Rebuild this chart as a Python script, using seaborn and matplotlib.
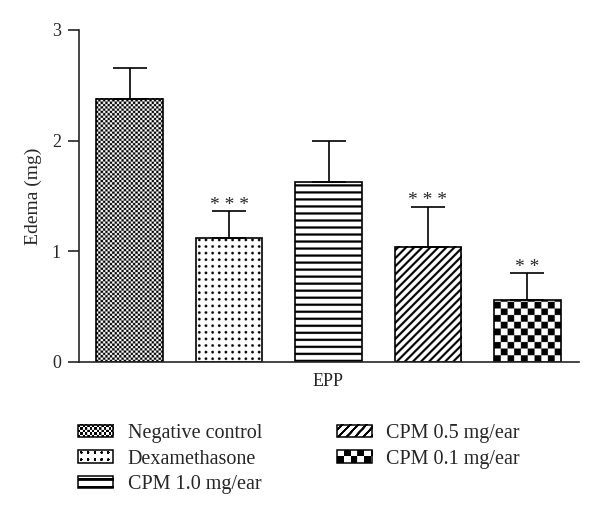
"""
Edema (mg) no modelo EPP - barras com padrões preto e branco.
"""

import numpy as np
import pandas as pd
import matplotlib
matplotlib.use("Agg")
import matplotlib.pyplot as plt
import seaborn as sns
from matplotlib.patches import Patch, Rectangle
from matplotlib.legend_handler import HandlerBase
from matplotlib.image import BboxImage
from matplotlib.colors import Normalize
from matplotlib.transforms import Bbox, TransformedBbox

groups = ["Negative control", "Dexamethasone", "CPM 1.0 mg/ear",
          "CPM 0.5 mg/ear", "CPM 0.1 mg/ear"]
means = [2.38, 1.12, 1.63, 1.04, 0.56]
errors = [0.28, 0.24, 0.37, 0.36, 0.24]
stars = ["", "* * *", "", "* * *", "* *"]
x_labels = ["EPP"]
y_ticks = [0, 1, 2, 3]

# padrão de cada grupo (textura desenhada em pixels)
patterns = {
    "Negative control": "fine_check",
    "Dexamethasone": "dots",
    "CPM 1.0 mg/ear": "hlines",
    "CPM 0.5 mg/ear": "diag",
    "CPM 0.1 mg/ear": "big_check",
}


def texture(kind, w_px, h_px, ss=4):
    """Gera a textura (1 = preto) com supersampling."""
    W = max(1, int(round(w_px * ss)))
    H = max(1, int(round(h_px * ss)))
    xx, yy = np.meshgrid((np.arange(W) + 0.5) / ss, (np.arange(H) + 0.5) / ss)
    if kind == "fine_check":
        a = (xx // 2.3 + yy // 2.3) % 2 == 0
    elif kind == "big_check":
        a = (xx // 6.7 + yy // 6.7) % 2 == 0
    elif kind == "dots":
        dx = (xx % 6.6) - 3.3
        dy = (yy % 6.6) - 3.3
        a = dx ** 2 + dy ** 2 < 1.35 ** 2
    elif kind == "hlines":
        a = (yy % 7.0) < 2.3
    elif kind == "diag":
        a = ((xx - yy) % 8.0) < 2.8
    else:
        a = np.zeros_like(xx, dtype=bool)
    return a.astype(float)


class TextureHandler(HandlerBase):
    def __init__(self, kind):
        super().__init__()
        self.kind = kind

    def create_artists(self, legend, orig_handle, xdescent, ydescent,
                       width, height, fontsize, trans):
        x0, y0 = -xdescent, -ydescent
        bb = TransformedBbox(Bbox.from_bounds(x0, y0, width, height), trans)
        img = BboxImage(bb, cmap="gray_r", norm=Normalize(0, 1),
                        interpolation="antialiased", origin="lower")
        img.set_data(texture(self.kind, width * 100 / 72, height * 100 / 72))
        rect = Rectangle((x0, y0), width, height, facecolor="none",
                         edgecolor="black", linewidth=1.1, transform=trans)
        return [img, rect]


sns.set_style("ticks")
plt.rcParams["font.family"] = ["Liberation Serif", "DejaVu Serif"]

fig = plt.figure(figsize=(6, 5.16), dpi=100)
ax = fig.add_axes([79 / 600, 1 - 362 / 516, 500 / 600, 332 / 516])

df = pd.DataFrame({"group": groups, "edema": means})
sns.barplot(data=df, x="group", y="edema", hue="group", order=groups,
            hue_order=groups, palette=["white"] * len(groups),
            edgecolor="black", linewidth=1.2, width=0.67, errorbar=None,
            legend=False, ax=ax)

xlim = (-0.51, 4.52)
ax.set_xlim(xlim)
ax.set_ylim(0, 3)

bbox = ax.get_window_extent()
pxx = bbox.width / (xlim[1] - xlim[0])
pxy = bbox.height / 3

for patch, g in zip(ax.patches, groups):
    x0, w, h = patch.get_x(), patch.get_width(), patch.get_height()
    arr = texture(patterns[g], w * pxx, h * pxy)
    ax.imshow(arr, cmap="gray_r", vmin=0, vmax=1, extent=(x0, x0 + w, 0, h),
              origin="lower", aspect="auto", interpolation="antialiased",
              zorder=1.5)
    patch.set_facecolor("none")
    patch.set_zorder(2)

ax.errorbar(range(len(groups)), means,
            yerr=[np.zeros(len(errors)), errors], fmt="none",
            ecolor="black", elinewidth=1.2, capsize=12, capthick=1.2, zorder=3)

for i, s in enumerate(stars):
    if s:
        ax.text(i, means[i] + errors[i] - 0.02, s, ha="center", va="bottom",
                fontsize=14)

ax.set_xlim(xlim)
ax.set_ylim(0, 3)
ax.set_yticks(y_ticks)
ax.set_xticks([2])
ax.set_xticklabels(x_labels)
ax.set_xlabel("")
ax.set_ylabel("Edema (mg)", fontsize=14, labelpad=7)
ax.tick_params(axis="y", length=8, width=1.2, labelsize=13, pad=5)
ax.tick_params(axis="x", length=0, labelsize=13, pad=8)
sns.despine(ax=ax)
for side in ["left", "bottom"]:
    ax.spines[side].set_linewidth(1.2)

handles = [Patch(facecolor="none", edgecolor="black", label=g) for g in groups]
handler_map = {h: TextureHandler(patterns[g]) for h, g in zip(handles, groups)}
fig.legend(handles, groups, handler_map=handler_map, ncol=2,
           loc="upper left", bbox_to_anchor=(78 / 600, 1 - 424 / 516),
           frameon=False, fontsize=14.5, handlelength=1.75, handleheight=0.55,
           handletextpad=0.72, labelspacing=0.33, columnspacing=3.7,
           borderpad=0, borderaxespad=0)

fig.savefig("out.png", dpi=100)
